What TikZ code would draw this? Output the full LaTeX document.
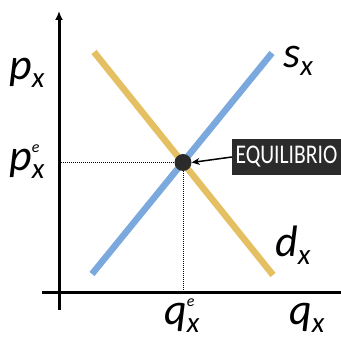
\documentclass[tikz,border=0pt]{standalone}
\usepackage{fontspec}
\setmainfont{Carlito}
\usetikzlibrary{arrows.meta}
\definecolor{demandc}{HTML}{E5C063}
\definecolor{supplyc}{HTML}{7BA9DD}
\definecolor{darkc}{HTML}{2B2B2B}
\tikzset{
  axis/.style={line width=3pt, black},
  curve/.style={line width=6.5pt, line cap=butt},
  guide/.style={line width=1pt, dash pattern=on 1pt off 1pt, black},
  lab/.style={anchor=base west, inner sep=0pt, font=\fontsize{44}{44}\selectfont\itshape},
  eqbox/.style={fill=darkc, text=white, minimum width=109pt, minimum height=36pt, inner sep=0pt, font=\fontsize{27}{27}\selectfont},
  eqdot/.style={circle, fill=darkc, minimum size=17pt, inner sep=0pt}
}
\newcommand{\subx}{\raisebox{-8pt}{\fontsize{29}{29}\selectfont\itshape x}}
\newcommand{\supsubx}{\makebox[0pt][l]{\raisebox{18pt}{\fontsize{16}{16}\selectfont e}}\raisebox{-8pt}{\fontsize{29}{29}\selectfont\itshape x}}
\begin{document}
\begin{tikzpicture}[x=1pt,y=-1pt]
\useasboundingbox (0,0) rectangle (341,339);
% axes
\coordinate (yb) at (59,310);
\coordinate (yt) at (59,11);
\coordinate (xl) at (42,293);
\coordinate (xr) at (341,293);
\draw[axis, -{Latex[length=9pt,width=8pt]}] (yb) -- (yt);
\draw[axis] (xl) -- (xr);
% curves
\coordinate (d1) at (94,52);
\coordinate (d2) at (273,275);
\coordinate (s1) at (92,274);
\coordinate (s2) at (272,53);
\draw[curve, demandc] (d1) -- (d2);
\draw[curve, supplyc] (s1) -- (s2);
% equilibrium
\node[eqdot] (eq) at (183,162.5) {};
\coordinate (pa) at (59,162.5);
\coordinate (qa) at (183,293);
\draw[guide] (pa) -- (eq.west);
\draw[guide] (eq.south) -- (qa);
\node[eqbox] (box) at (286.5,157) {\scalebox{0.8}[1]{EQUILIBRIO}};
\draw[line width=1.5pt, -{Stealth[length=8pt,width=7pt]}] (box.west) -- (eq.east);
% labels
\node[lab] (px) at (9,80) {p\subx};
\node[lab] (pex) at (9,171) {p\supsubx};
\node[lab] (sx) at (283,68) {s\subx};
\node[lab] (dx) at (275,257) {d\subx};
\node[lab] (qex) at (164,325) {q\supsubx};
\node[lab] (qx) at (289,325) {q\subx};
\end{tikzpicture}
\end{document}
